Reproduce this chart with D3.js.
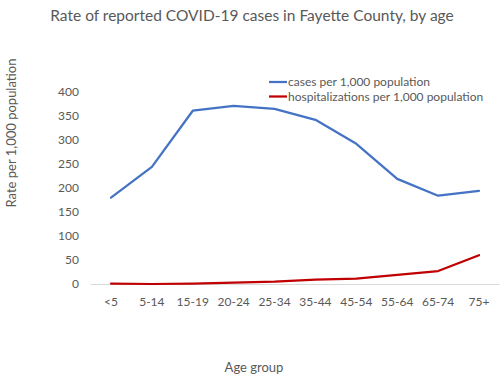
<!DOCTYPE html>
<html><head><meta charset="utf-8">
<script src="https://cdn.jsdelivr.net/npm/d3@7"></script>
<style>body{margin:0;background:#fff}svg{display:block;font-family:Lato,"Open Sans",sans-serif}</style>
</head><body>
<svg id="c" width="500" height="380"></svg>
<script>
const categories = ["<5","5-14","15-19","20-24","25-34","35-44","45-54","55-64","65-74","75+"];
const cases = [180,244,361,371,365,342,292,219,184,194];
const hosp = [1,0,1,3,5,9,11,19,27,60];
const yTicks = [0,50,100,150,200,250,300,350,400];
const seriesNames = ["cases per 1,000 population","hospitalizations per 1,000 population"];
const colors = ["#4472C4","#C00000"];

const svg = d3.select("#c");
const x = d3.scalePoint().domain(categories).range([111,479]);
const y = d3.scaleLinear().domain([0,400]).range([284,92]);
const gray = "#595959";

svg.append("text").attr("x",252).attr("y",21).attr("text-anchor","middle")
  .attr("font-size",15.5).attr("fill",gray).text("Rate of reported COVID-19 cases in Fayette County, by age");

// baseline
svg.append("line").attr("x1",90.5).attr("x2",499.5).attr("y1",y(0)+0.5).attr("y2",y(0)+0.5)
  .attr("stroke","#d9d9d9").attr("stroke-width",1);

// y tick labels
svg.append("g").selectAll("text").data(yTicks).join("text")
  .attr("x",79).attr("y",d=>y(d)).attr("dy","0.35em").attr("text-anchor","end")
  .attr("font-size",12).attr("fill",gray).text(d=>d);

// x tick labels
svg.append("g").selectAll("text").data(categories).join("text")
  .attr("x",d=>x(d)).attr("y",302).attr("dy","0.35em").attr("text-anchor","middle")
  .attr("font-size",12).attr("fill",gray).text(d=>d);

// axis titles
svg.append("text").attr("transform","translate(16,133) rotate(-90)").attr("text-anchor","middle")
  .attr("font-size",13).attr("fill",gray).text("Rate per 1,000 population");
svg.append("text").attr("x",254).attr("y",367).attr("dy","0.35em").attr("text-anchor","middle")
  .attr("font-size",13).attr("fill",gray).text("Age group");

const line = d3.line().x((d,i)=>x(categories[i])).y(d=>y(d));
[cases,hosp].forEach((s,i)=>{
  svg.append("path").attr("d",line(s)).attr("fill","none").attr("stroke",colors[i])
    .attr("stroke-width",2.25).attr("stroke-linejoin","round").attr("stroke-linecap","round");
});

// legend
const lg = svg.append("g");
seriesNames.forEach((n,i)=>{
  const yy = 82 + i*14.5;
  lg.append("line").attr("x1",269).attr("x2",287).attr("y1",yy).attr("y2",yy)
    .attr("stroke",colors[i]).attr("stroke-width",2.25);
  lg.append("text").attr("x",288).attr("y",yy).attr("dy","0.35em")
    .attr("font-size",12).attr("fill",gray).text(n);
});
</script>
</body></html>
